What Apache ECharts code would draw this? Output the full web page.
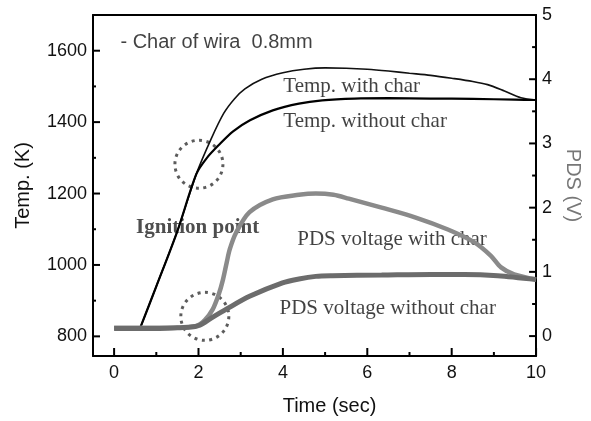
<!DOCTYPE html>
<html>
<head>
<meta charset="utf-8">
<script src="https://cdn.jsdelivr.net/npm/echarts@6/dist/echarts.min.js"></script>
<style>
    html, body { margin: 0; padding: 0; background: #fff; }
    #chart { width: 591px; height: 421px; }
</style>
</head>
<body>
<div id="chart"></div>
<script>
// 温度曲线 [time, K]
let tempWithChar = [[0.6,818],[1.0,940],[1.5,1095],[1.95,1255],[2.3,1353],[2.6,1425],[2.85,1465],[3.1,1493],[3.5,1520],[4.0,1538],[4.5,1548],[5.0,1552],[5.5,1551],[6.0,1548],[6.5,1543],[7.0,1537],[7.5,1531],[8.0,1523],[8.5,1514],[8.85,1505],[9.25,1487],[9.64,1468],[10,1462]];
let tempWithoutChar = [[0.6,818],[1.0,940],[1.5,1095],[1.95,1255],[2.2,1300],[2.5,1338],[2.82,1374],[3.22,1405],[3.76,1433],[4.38,1452],[4.93,1461],[5.7,1466],[6.5,1467],[7.5,1466],[8.5,1465],[9.5,1463],[10,1462]];
// PDS 电压 [time, V]
let pdsWithChar = [[0,0.13],[0.5,0.13],[1.0,0.13],[1.5,0.13],[1.95,0.16],[2.15,0.25],[2.34,0.42],[2.48,0.65],[2.58,0.88],[2.67,1.15],[2.74,1.35],[2.89,1.61],[3.21,1.93],[3.76,2.13],[4.38,2.2],[4.78,2.22],[5.2,2.2],[5.56,2.14],[6.34,2.0],[7.13,1.85],[7.91,1.66],[8.54,1.46],[8.93,1.25],[9.17,1.07],[9.48,0.96],[10,0.88]];
let pdsWithoutChar = [[0,0.12],[0.5,0.12],[1.0,0.12],[1.5,0.13],[1.8,0.14],[2.03,0.17],[2.3,0.28],[2.66,0.42],[3.21,0.62],[3.99,0.83],[4.38,0.89],[4.78,0.93],[5.17,0.94],[6.34,0.95],[7.52,0.96],[8.3,0.96],[9.09,0.94],[10,0.88]];

// 刻度
let xMajorTicks = [0, 2, 4, 6, 8, 10];
let xMinorTicks = [1, 3, 5, 7, 9];
let tempMajorTicks = [800, 1000, 1200, 1400, 1600];
let tempMinorTicks = [900, 1100, 1300, 1500];
let pdsMajorTicks = [0, 1, 2, 3, 4, 5];
let pdsMinorTicks = [0.5, 1.5, 2.5, 3.5, 4.5];

// 虚线圈 [time, K]
let circles = [[2.01, 1282], [2.15, 856]];

// 文字标注 [time, K, text]
let notes = [
    [0.15, 1623, '- Char of wira  0.8mm'],
    [4.01, 1501, 'Temp. with char'],
    [4.01, 1403, 'Temp. without char'],
    [0.52, 1106, 'Ignition point'],
    [4.34, 1070, 'PDS voltage with char'],
    [3.92, 879, 'PDS voltage without char']
];

let sans = 'Liberation Sans, Arial, sans-serif';
let serif = 'Liberation Serif, Times New Roman, serif';

function plain(v) {
    return String(v);
}

function noteStyle(text) {
    if (text.charAt(0) === '-') {
        return { fontFamily: sans, fontSize: 20, color: '#111' };
    }
    if (text === 'Ignition point') {
        return { fontFamily: serif, fontSize: 21, fontWeight: 'bold', color: '#222' };
    }
    return { fontFamily: serif, fontSize: 21, color: '#111' };
}

let myChart = echarts.init(document.getElementById('chart'), null, { renderer: 'canvas' });

let option = {
    animation: false,
    grid: { left: 93, right: 52, top: 15, bottom: 64 },
    xAxis: [
        {
            type: 'value', min: -0.5, max: 10, position: 'bottom',
            name: 'Time (sec)', nameLocation: 'middle', nameGap: 40,
            nameTextStyle: { fontFamily: sans, fontSize: 20, color: '#111', padding: [0, 0, 0, 30] },
            splitLine: { show: false },
            axisLine: { onZero: false, lineStyle: { color: '#000', width: 2 } },
            axisTick: { show: false },
            axisLabel: { customValues: xMajorTicks, formatter: plain, margin: 8, fontFamily: sans, fontSize: 18, color: '#111' }
        },
        // 顶部边框
        {
            type: 'value', min: -0.5, max: 10, position: 'top',
            splitLine: { show: false },
            axisLine: { show: true, onZero: false, lineStyle: { color: '#000', width: 2 } },
            axisTick: { show: false },
            axisLabel: { show: false }
        }
    ],
    yAxis: [
        {
            type: 'value', min: 745, max: 1700, position: 'left',
            name: 'Temp. (K)', nameLocation: 'middle', nameGap: 60, nameRotate: 90,
            nameTextStyle: { fontFamily: sans, fontSize: 20, color: '#111' },
            splitLine: { show: false },
            axisLine: { onZero: false, lineStyle: { color: '#000', width: 2 } },
            axisTick: { show: false },
            axisLabel: { customValues: tempMajorTicks, formatter: plain, margin: 6, fontFamily: sans, fontSize: 18, color: '#111' }
        },
        {
            type: 'value', min: -0.31, max: 5, position: 'right',
            name: 'PDS (V)', nameLocation: 'middle', nameGap: 26, nameRotate: -90,
            nameTextStyle: { fontFamily: sans, fontSize: 20, color: '#777' },
            splitLine: { show: false },
            axisLine: { onZero: false, lineStyle: { color: '#000', width: 2 } },
            axisTick: { show: false },
            axisLabel: { customValues: pdsMajorTicks, formatter: plain, margin: 6, fontFamily: sans, fontSize: 18, color: '#111' }
        }
    ],
    series: [
        {
            name: 'Temp. with char', type: 'line', yAxisIndex: 0, data: tempWithChar,
            smooth: 0.3, showSymbol: false,
            lineStyle: { color: '#111', width: 1.6 }
        },
        {
            name: 'Temp. without char', type: 'line', yAxisIndex: 0, data: tempWithoutChar,
            smooth: 0.3, showSymbol: false,
            lineStyle: { color: '#000', width: 2.2 }
        },
        {
            name: 'PDS voltage with char', type: 'line', yAxisIndex: 1, data: pdsWithChar,
            smooth: 0.3, showSymbol: false,
            lineStyle: { color: '#8a8a8a', width: 4.5 }
        },
        {
            name: 'PDS voltage without char', type: 'line', yAxisIndex: 1, data: pdsWithoutChar,
            smooth: 0.3, showSymbol: false,
            lineStyle: { color: '#6c6c6c', width: 5 }
        },
        {
            name: 'circles', type: 'scatter', yAxisIndex: 0, data: circles,
            symbol: 'circle', symbolSize: 48, silent: true,
            itemStyle: { color: 'rgba(0,0,0,0)', borderColor: '#333', borderWidth: 3, borderType: [3, 4.5] }
        },
        {
            name: 'notes', type: 'scatter', yAxisIndex: 0, symbolSize: 0, silent: true,
            data: notes.map(function (n) {
                return {
                    value: [n[0], n[1]],
                    label: Object.assign({ show: true, position: 'right', distance: 0, formatter: n[2] }, noteStyle(n[2]))
                };
            })
        }
    ]
};
myChart.setOption(option);

// 朝内的刻度线：位置由坐标轴换算
function buildTicks() {
    let left = myChart.convertToPixel({ xAxisIndex: 0 }, -0.5);
    let right = myChart.convertToPixel({ xAxisIndex: 0 }, 10);
    let bottom = myChart.convertToPixel({ yAxisIndex: 0 }, 745);
    let ticks = [];
    function add(x1, y1, x2, y2) {
        ticks.push({
            type: 'line', silent: true, z: 100,
            shape: { x1: x1, y1: y1, x2: x2, y2: y2 },
            style: { stroke: '#000', lineWidth: 2 }
        });
    }
    xMajorTicks.forEach(function (v) {
        let px = myChart.convertToPixel({ xAxisIndex: 0 }, v);
        add(px, bottom, px, bottom - 8);
    });
    xMinorTicks.forEach(function (v) {
        let px = myChart.convertToPixel({ xAxisIndex: 0 }, v);
        add(px, bottom, px, bottom - 4);
    });
    tempMajorTicks.forEach(function (v) {
        let py = myChart.convertToPixel({ yAxisIndex: 0 }, v);
        add(left, py, left + 7, py);
    });
    tempMinorTicks.forEach(function (v) {
        let py = myChart.convertToPixel({ yAxisIndex: 0 }, v);
        add(left, py, left + 3, py);
    });
    pdsMajorTicks.forEach(function (v) {
        let py = myChart.convertToPixel({ yAxisIndex: 1 }, v);
        add(right, py, right - 7, py);
    });
    pdsMinorTicks.forEach(function (v) {
        let py = myChart.convertToPixel({ yAxisIndex: 1 }, v);
        add(right, py, right - 4, py);
    });
    myChart.setOption({ graphic: ticks });
}
buildTicks();
</script>
</body>
</html>
